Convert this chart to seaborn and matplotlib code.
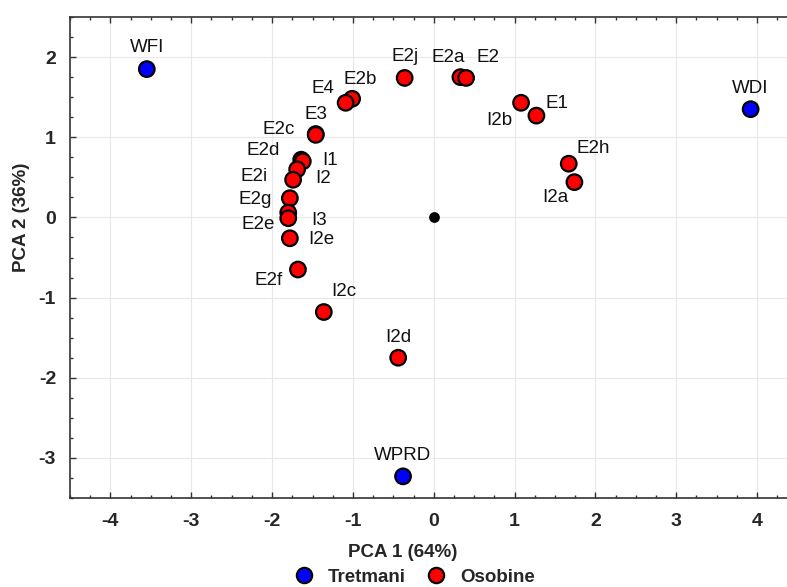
import matplotlib
matplotlib.use("Agg")
import matplotlib.pyplot as plt
from matplotlib.ticker import MultipleLocator
from matplotlib.lines import Line2D
import seaborn as sns
import pandas as pd

# treatments (blue)
treat_names = ["WFI", "WDI", "WPRD"]
treat_pc1 = [-3.55, 3.92, -0.38]
treat_pc2 = [1.85, 1.35, -3.23]

# traits (red)
trait_names = ["E2j", "E2a", "E2", "E2b", "E4", "E3", "E2c", "E2d", "I1", "I2",
               "E2i", "E2g", "I3", "E2e", "I2e", "E2f", "I2c", "I2d", "I2b", "E1",
               "E2h", "I2a"]
trait_pc1 = [-0.36, 0.33, 0.40, -1.01, -1.09, -1.46, -1.46, -1.64, -1.62, -1.69,
             -1.74, -1.78, -1.80, -1.80, -1.78, -1.68, -1.36, -0.44, 1.08, 1.27,
             1.67, 1.74]
trait_pc2 = [1.74, 1.75, 1.74, 1.48, 1.43, 1.04, 1.03, 0.72, 0.70, 0.60,
             0.47, 0.24, 0.06, -0.01, -0.26, -0.65, -1.18, -1.75, 1.43, 1.27,
             0.67, 0.44]

# label offsets in pixels (layout only)
label_offsets = {
    "WFI": (0, 22), "WDI": (0, 21), "WPRD": (0, 21),
    "E2j": (0, 21), "E2a": (-12, 20), "E2": (22, 20), "E2b": (8, 19),
    "E4": (-23, 14), "E3": (0, 20), "E2c": (-37, 5), "E2d": (-38, 9),
    "I1": (27, 1), "I2": (26, -9), "E2i": (-39, 3), "E2g": (-35, -1),
    "I3": (31, -8), "E2e": (-30, -6), "I2e": (31, -1), "E2f": (-29, -11),
    "I2c": (20, 21), "I2d": (0, 20), "I2b": (-22, -18), "E1": (21, 12),
    "E2h": (25, 15), "I2a": (-19, -15),
}

df = pd.DataFrame({
    "name": treat_names + trait_names,
    "PC1": treat_pc1 + trait_pc1,
    "PC2": treat_pc2 + trait_pc2,
    "group": ["Tretmani"] * len(treat_names) + ["Osobine"] * len(trait_names),
})

sns.set_style("whitegrid")
plt.rcParams["font.family"] = ["Liberation Sans", "DejaVu Sans"]
plt.rcParams["axes.unicode_minus"] = False

fig = plt.figure(figsize=(7.87, 5.87), dpi=100)
ax = fig.add_axes([70 / 787, 1 - 498 / 587, 1 - 70 / 787, 481 / 587])

palette = {"Tretmani": "#0000FF", "Osobine": "#FF0000"}
sns.scatterplot(data=df, x="PC1", y="PC2", hue="group", palette=palette,
                s=125, edgecolor="black", linewidth=1.6, legend=False,
                ax=ax, zorder=3)
ax.scatter([0], [0], s=60, color="black", zorder=3, linewidths=0)

for _, r in df.iterrows():
    dx, dy = label_offsets[r["name"]]
    ax.annotate(r["name"], (r["PC1"], r["PC2"]), xytext=(dx, dy),
                textcoords="offset pixels", ha="center", va="center",
                fontsize=13.5, color="#111111", zorder=4)

ax.set_xlim(-4.5, 4.37)
ax.set_ylim(-3.5, 2.5)
ax.xaxis.set_major_locator(MultipleLocator(1))
ax.yaxis.set_major_locator(MultipleLocator(1))
ax.xaxis.set_minor_locator(MultipleLocator(0.25))
ax.yaxis.set_minor_locator(MultipleLocator(0.25))
ax.grid(True, which="major", color="#e8e8e8", linewidth=0.8)
ax.grid(False, which="minor")
ax.set_axisbelow(True)

for side in ["left", "bottom", "top"]:
    ax.spines[side].set_visible(True)
    ax.spines[side].set_color("#333333")
    ax.spines[side].set_linewidth(1.2)
ax.spines["right"].set_visible(False)

ax.tick_params(which="both", direction="in", top=True, bottom=True, left=True,
               right=False, color="#333333")
ax.tick_params(which="major", length=4, width=1)
ax.tick_params(which="minor", length=2.5, width=1)
ax.tick_params(axis="x", which="major", pad=11, labelsize=14)
ax.tick_params(axis="y", which="major", pad=10, labelsize=14)
for lbl in ax.get_xticklabels() + ax.get_yticklabels():
    lbl.set_fontweight("bold")

ax.set_xlabel("PCA 1 (64%)", fontsize=13.5, fontweight="bold")
ax.set_ylabel("PCA 2 (36%)", fontsize=13.5, fontweight="bold")
ax.xaxis.set_label_coords((403 - 70) / 717, -46 / 481)
ax.yaxis.set_label_coords(-40 / 717, (498 - 217) / 481)

handles = [Line2D([0], [0], marker="o", linestyle="", markerfacecolor=c,
                  markeredgecolor="black", markeredgewidth=1.6, markersize=11)
           for c in palette.values()]
fig.legend(handles, list(palette.keys()), loc="center",
           bbox_to_anchor=(410 / 787, 1 - 577 / 587), ncol=2, frameon=False,
           prop={"weight": "bold", "size": 13.5}, handletextpad=0.3,
           columnspacing=0.6, borderaxespad=0)

fig.savefig("out.png", dpi=100)
